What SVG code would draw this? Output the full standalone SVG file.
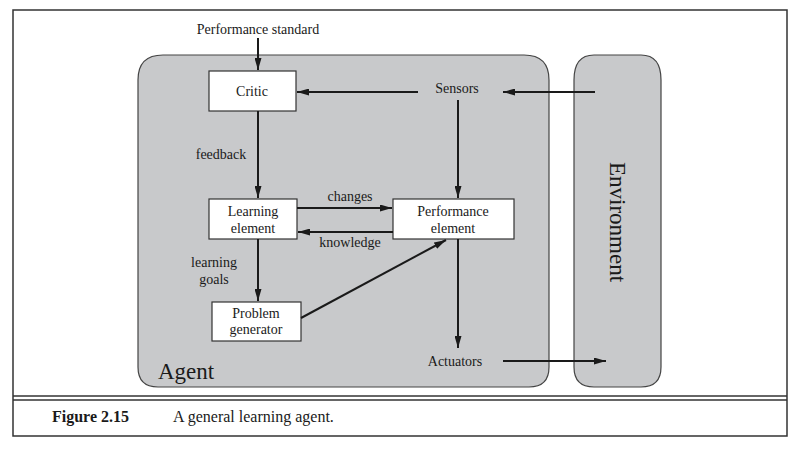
<svg xmlns="http://www.w3.org/2000/svg" width="800" height="451" viewBox="0 0 800 451">
<style>
text{font-family:"Liberation Serif","Times New Roman",serif;fill:#1a1a1a}
.lbl{font-size:14px;text-anchor:middle}
.box{fill:#fff;stroke:#333;stroke-width:1.2}
.reg{fill:#c8c9cb;stroke:#444;stroke-width:1.2}
.c{stroke:#1a1a1a;stroke-width:2;fill:none;marker-end:url(#ah)}
</style>
<defs><marker id="ah" viewBox="0 0 12 7" refX="12" refY="3.5" markerWidth="12" markerHeight="7" markerUnits="userSpaceOnUse" orient="auto"><path d="M0,0L12,3.5L0,7z" fill="#1a1a1a"/></marker></defs>
<rect x="0" y="0" width="800" height="451" fill="#fff"/>
<path d="M13,10H787V436H13Z" fill="none" stroke="#333" stroke-width="1.5"/>
<line x1="13" y1="396" x2="787" y2="396" stroke="#333" stroke-width="1.5"/>
<line x1="13" y1="400" x2="787" y2="400" stroke="#333" stroke-width="1.5"/>
<g id="agent"><path class="reg" d="M163,55H524Q549,55 549,80V367Q549,387 529,387H158Q138,387 138,367V80Q138,55 163,55Z"/><text x="158" y="379" font-size="23">Agent</text></g>
<g id="environment"><path class="reg" d="M594,55H641Q661,55 661,80V367Q661,387 641,387H594Q574,387 574,367V80Q574,55 594,55Z"/><text transform="translate(610,222) rotate(90)" font-size="23" text-anchor="middle">Environment</text></g>
<g id="critic"><rect class="box" x="209" y="71" width="87" height="40"/><text class="lbl" x="252" y="96">Critic</text></g>
<g id="learning"><rect class="box" x="209" y="199" width="88" height="40"/><text class="lbl" x="253" y="216">Learning</text><text class="lbl" x="253" y="233">element</text></g>
<g id="performance"><rect class="box" x="393" y="199" width="121" height="40"/><text class="lbl" x="453" y="216">Performance</text><text class="lbl" x="453" y="233">element</text></g>
<g id="problem"><rect class="box" x="212" y="302" width="89" height="39"/><text class="lbl" x="256" y="318">Problem</text><text class="lbl" x="256" y="334">generator</text></g>
<g id="sensors"><text class="lbl" x="457" y="93">Sensors</text></g>
<g id="actuators"><text class="lbl" x="455" y="366">Actuators</text></g>
<g id="performance-standard"><text class="lbl" x="258" y="34">Performance standard</text></g>
<g id="connectors">
<line class="c" x1="258" y1="38" x2="258" y2="70"/>
<line class="c" x1="595" y1="92" x2="503" y2="92"/>
<line class="c" x1="418" y1="92" x2="297" y2="92"/>
<line class="c" x1="458" y1="100" x2="458" y2="198"/>
<line class="c" x1="258" y1="111" x2="258" y2="198"/>
<line class="c" x1="297" y1="208" x2="392" y2="208"/>
<line class="c" x1="393" y1="232" x2="298" y2="232"/>
<line class="c" x1="258" y1="239" x2="258" y2="301"/>
<line class="c" x1="301" y1="318" x2="446" y2="240"/>
<line class="c" x1="458" y1="239" x2="458" y2="348"/>
<line class="c" x1="503" y1="361" x2="606" y2="361"/>
<text class="lbl" x="221" y="159">feedback</text>
<text class="lbl" x="350" y="201">changes</text>
<text class="lbl" x="350" y="247">knowledge</text>
<text class="lbl" x="214" y="267">learning</text>
<text class="lbl" x="214" y="284">goals</text>
</g>
<text x="52" y="422" font-size="16" font-weight="bold">Figure 2.15</text>
<text x="173" y="422" font-size="16">A general learning agent.</text>
</svg>
